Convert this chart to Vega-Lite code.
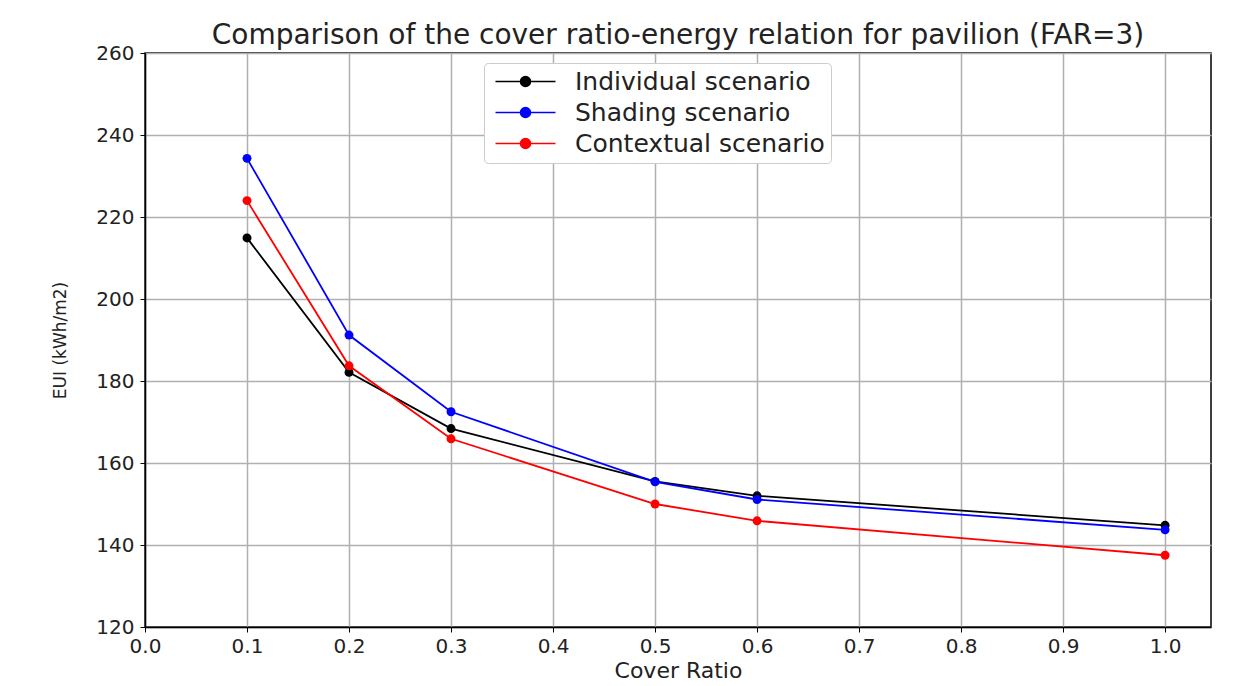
{
  "$schema": "https://vega.github.io/schema/vega-lite/v6.json",
  "width": 1066,
  "height": 574,
  "autosize": "none",
  "padding": {"left": 145, "top": 53, "right": 47, "bottom": 59},
  "background": "white",
  "config": {
    "font": "DejaVu Sans",
    "view": {"stroke": "black", "strokeWidth": 1.5},
    "axis": {
      "grid": true,
      "gridColor": "#b0b0b0",
      "gridWidth": 1.5,
      "domainColor": "black",
      "domainWidth": 1.5,
      "tickColor": "black",
      "tickSize": 5,
      "tickWidth": 1,
      "labelFont": "DejaVu Sans",
      "labelFontSize": 20,
      "labelColor": "#222",
      "labelFlush": false,
      "titleFont": "DejaVu Sans",
      "titleFontWeight": "normal",
      "titleColor": "#222"
    }
  },
  "title": {
    "text": "Comparison of the cover ratio-energy relation for pavilion (FAR=3)",
    "fontSize": 28,
    "fontWeight": "normal",
    "font": "DejaVu Sans",
    "color": "#222",
    "offset": -7
  },
  "data": {
    "values": [
      {"cover": 0.1, "eui": 214.9, "scenario": "Individual scenario"},
      {"cover": 0.2, "eui": 182.1, "scenario": "Individual scenario"},
      {"cover": 0.3, "eui": 168.4, "scenario": "Individual scenario"},
      {"cover": 0.5, "eui": 155.5, "scenario": "Individual scenario"},
      {"cover": 0.6, "eui": 152.0, "scenario": "Individual scenario"},
      {"cover": 1.0, "eui": 144.8, "scenario": "Individual scenario"},
      {"cover": 0.1, "eui": 234.3, "scenario": "Shading scenario"},
      {"cover": 0.2, "eui": 191.2, "scenario": "Shading scenario"},
      {"cover": 0.3, "eui": 172.5, "scenario": "Shading scenario"},
      {"cover": 0.5, "eui": 155.4, "scenario": "Shading scenario"},
      {"cover": 0.6, "eui": 151.1, "scenario": "Shading scenario"},
      {"cover": 1.0, "eui": 143.7, "scenario": "Shading scenario"},
      {"cover": 0.1, "eui": 224.0, "scenario": "Contextual scenario"},
      {"cover": 0.2, "eui": 183.7, "scenario": "Contextual scenario"},
      {"cover": 0.3, "eui": 165.9, "scenario": "Contextual scenario"},
      {"cover": 0.5, "eui": 150.0, "scenario": "Contextual scenario"},
      {"cover": 0.6, "eui": 145.9, "scenario": "Contextual scenario"},
      {"cover": 1.0, "eui": 137.5, "scenario": "Contextual scenario"}
    ]
  },
  "encoding": {
    "x": {
      "field": "cover",
      "type": "quantitative",
      "title": "Cover Ratio",
      "scale": {"domain": [0, 1.045], "nice": false, "zero": false},
      "axis": {
        "values": [0, 0.1, 0.2, 0.3, 0.4, 0.5, 0.6, 0.7, 0.8, 0.9, 1.0],
        "format": ".1f",
        "titleFontSize": 22,
        "titlePadding": 4,
        "labelPadding": 4
      }
    },
    "y": {
      "field": "eui",
      "type": "quantitative",
      "title": "EUI (kWh/m2)",
      "scale": {"domain": [120, 260], "nice": false, "zero": false},
      "axis": {
        "values": [120, 140, 160, 180, 200, 220, 240, 260],
        "titleFontSize": 17,
        "titlePadding": 26,
        "labelPadding": 6
      }
    },
    "color": {
      "field": "scenario",
      "type": "nominal",
      "sort": ["Individual scenario", "Shading scenario", "Contextual scenario"],
      "scale": {
        "domain": ["Individual scenario", "Shading scenario", "Contextual scenario"],
        "range": ["#000000", "#0000ff", "#ff0000"]
      },
      "legend": {
        "title": null,
        "orient": "none",
        "legendX": 339,
        "legendY": 10,
        "padding": 6,
        "fillColor": "white",
        "strokeColor": "#cccccc",
        "cornerRadius": 4,
        "labelFontSize": 25,
        "labelFont": "DejaVu Sans",
        "labelColor": "#222",
        "labelOffset": 37,
        "labelLimit": 500,
        "symbolType": "M-3,0H3M0.5,0A0.5,0.5,0,1,1,-0.5,0A0.5,0.5,0,1,1,0.5,0Z",
        "symbolSize": 400,
        "symbolOffset": 23,
        "symbolStrokeWidth": 1.5,
        "rowPadding": 5,
        "encode": {
          "symbols": {"update": {"fill": {"scale": "color", "field": "value"}}}
        }
      }
    }
  },
  "layer": [
    {"mark": {"type": "line", "strokeWidth": 1.8}},
    {"mark": {"type": "point", "filled": true, "size": 80, "opacity": 1}}
  ]
}
